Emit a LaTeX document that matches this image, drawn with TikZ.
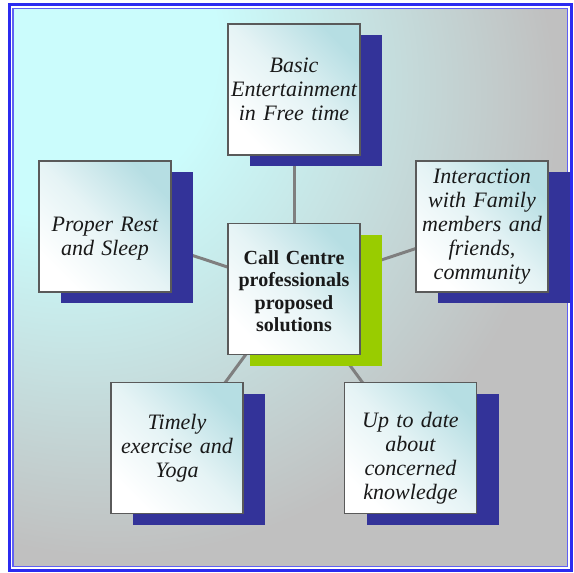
\documentclass[tikz,border=0pt]{standalone}
\usepackage{fontspec}
\setmainfont{Liberation Serif}
\usetikzlibrary{positioning,shadows,backgrounds}
\definecolor{ccframe}{HTML}{2B2BF0}
\definecolor{cccyan}{HTML}{CBFCFC}
\definecolor{ccgrey}{HTML}{C0C0C0}
\definecolor{ccbox}{HTML}{B6DEE3}
\definecolor{ccnavy}{HTML}{333399}
\definecolor{cclime}{HTML}{99CC00}
\definecolor{cclink}{HTML}{7F7F7F}
\definecolor{ccedge}{HTML}{5A5A5A}
\pgfdeclareradialshading{ccbackdrop}{\pgfqpoint{-25bp}{25bp}}{color(0bp)=(cccyan); color(15bp)=(cccyan); color(40bp)=(ccgrey); color(110bp)=(ccgrey)}

\begin{document}
\begin{tikzpicture}[x=1pt, y=-1pt,
  card/.style={draw=ccedge, line width=1.3pt, top color=ccbox, bottom color=white, middle color=ccbox!35, shading angle=-45,
    minimum width=132pt, minimum height=131pt, text width=130pt, inner sep=1pt, align=center, text=black!90},
  idea/.style={card, font=\fontsize{22}{24}\selectfont\itshape,
    drop shadow={shadow xshift=22pt, shadow yshift=-11pt, fill=ccnavy, opacity=1}},
  hub/.style={card, font=\fontsize{20}{22.4}\selectfont\bfseries,
    drop shadow={shadow xshift=22pt, shadow yshift=-11pt, fill=cclime, opacity=1}},
  link/.style={draw=cclink, line width=3pt}]
\useasboundingbox (0,0) rectangle (574,573);
\node[hub, text height=18pt] (hub) at (294,289) {Call Centre\\professionals\\proposed\\solutions};
\node[idea] (fun) at (294,89.5) {Basic\\Entertainment\\in Free time};
\node[idea, text height=38pt] (rest) at (105,226.5) {Proper Rest\\and Sleep};
\node[idea] (family) at (482,226.5) {Interaction\\with Family\\members and\\friends,\\community};
\node[idea] (yoga) at (177,448) {Timely\\exercise and\\Yoga};
\node[idea, text height=36pt] (update) at (410.5,448) {Up to date\\about\\concerned\\knowledge};
\begin{scope}[on background layer]
  \fill[shading=ccbackdrop] (13,8.5) rectangle (567.5,566.5);
  \draw[ccframe, line width=3pt] (9.5,4.5) rectangle (571.5,570.5);
  \draw[ccframe!75, line width=1.2pt] (13,8.5) rectangle (567.5,566.5);
  \foreach \leaf in {fun,rest,family,yoga,update}
    \draw[link] (hub.center) -- (\leaf.center);
\end{scope}
\end{tikzpicture}
\end{document}
